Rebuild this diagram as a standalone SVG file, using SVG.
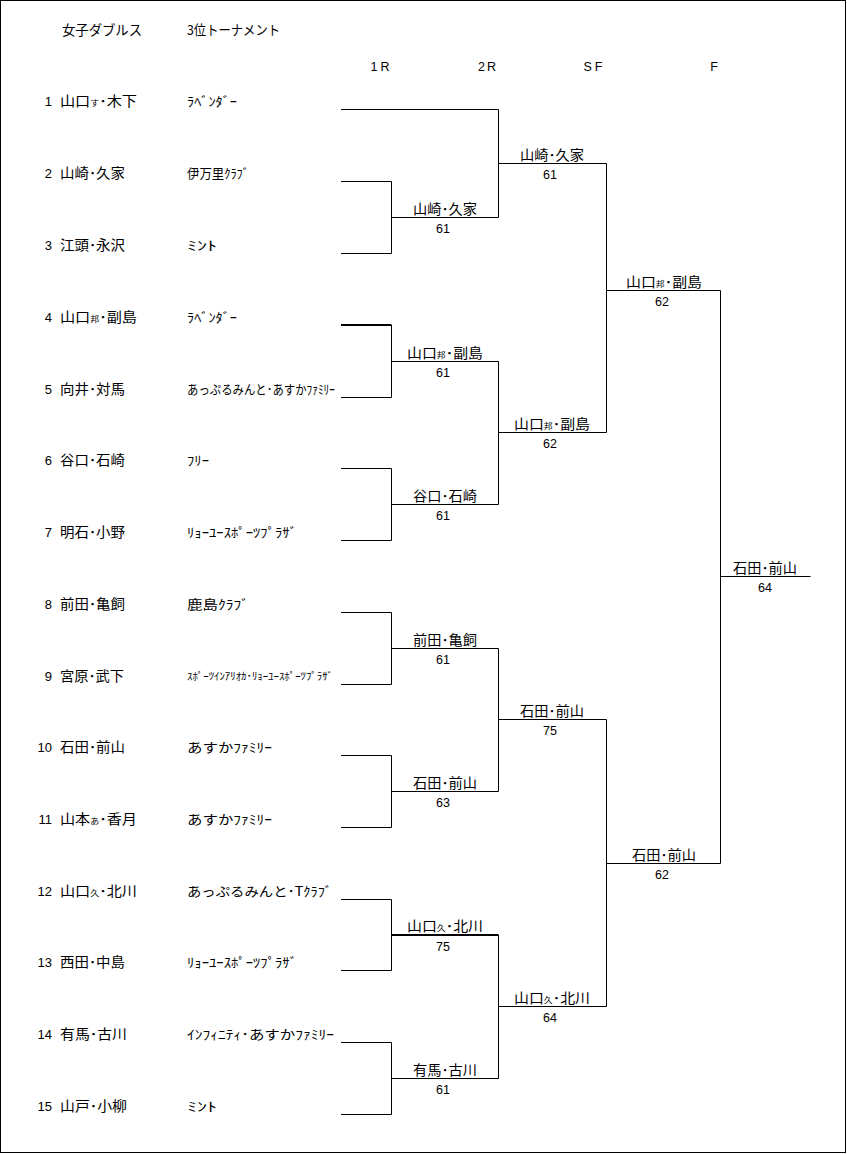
<svg xmlns="http://www.w3.org/2000/svg" width="847" height="1154" viewBox="0 0 847 1154">
<style>
.jp{font-family:"Noto Sans CJK JP","Noto Sans CJK SC",sans-serif;fill:#000}
.nm{font-size:13.5px}
.cl{font-size:13px}
.cs{font-size:10.5px}
.sm{font-size:8px}
.num{font-family:"Liberation Sans",Arial,sans-serif;font-size:13px;fill:#000}
.sc{font-family:"Liberation Sans",Arial,sans-serif;font-size:12.5px;fill:#000;text-anchor:middle}
.hd{font-family:"Liberation Sans",Arial,sans-serif;font-size:12.5px;fill:#000;text-anchor:middle}
.lbl{text-anchor:middle}
.ln{stroke:#000;stroke-width:1;fill:none}
.thick{stroke-width:2}
</style>
<rect x="0" y="0" width="847" height="1154" fill="#fff"/>
<rect x="0.5" y="0.5" width="845" height="1152" fill="none" stroke="#000" stroke-width="1"/>

<g id="header">
<text class="jp nm" x="62" y="35" textLength="80" lengthAdjust="spacingAndGlyphs">女子ダブルス</text>
<text class="jp nm" x="187" y="35" textLength="93" lengthAdjust="spacingAndGlyphs">3位トーナメント</text>
<text class="hd" x="380" y="71" textLength="19" lengthAdjust="spacing">1R</text>
<text class="hd" x="487" y="71" textLength="18" lengthAdjust="spacing">2R</text>
<text class="hd" x="593" y="71" textLength="19" lengthAdjust="spacing">SF</text>
<text class="hd" x="714" y="71">F</text>
</g>

<g id="players">
<g id="p1"><text class="num" x="52" y="106" text-anchor="end">1</text><text class="jp nm" x="60" y="106" textLength="77" lengthAdjust="spacingAndGlyphs">山口<tspan class="sm">す</tspan>･木下</text><text class="jp cl" x="187" y="106" textLength="50" lengthAdjust="spacingAndGlyphs">ﾗﾍﾞﾝﾀﾞｰ</text></g>
<g id="p2"><text class="num" x="52" y="178" text-anchor="end">2</text><text class="jp nm" x="60" y="178" textLength="65" lengthAdjust="spacingAndGlyphs">山崎･久家</text><text class="jp cl" x="187" y="178" textLength="62" lengthAdjust="spacingAndGlyphs">伊万里ｸﾗﾌﾞ</text></g>
<g id="p3"><text class="num" x="52" y="250" text-anchor="end">3</text><text class="jp nm" x="60" y="250" textLength="65" lengthAdjust="spacingAndGlyphs">江頭･永沢</text><text class="jp cl" x="187" y="250" textLength="30" lengthAdjust="spacingAndGlyphs">ﾐﾝﾄ</text></g>
<g id="p4"><text class="num" x="52" y="322" text-anchor="end">4</text><text class="jp nm" x="60" y="322" textLength="77" lengthAdjust="spacingAndGlyphs">山口<tspan class="sm">邦</tspan>･副島</text><text class="jp cl" x="187" y="322" textLength="50" lengthAdjust="spacingAndGlyphs">ﾗﾍﾞﾝﾀﾞｰ</text></g>
<g id="p5"><text class="num" x="52" y="394" text-anchor="end">5</text><text class="jp nm" x="60" y="394" textLength="65" lengthAdjust="spacingAndGlyphs">向井･対馬</text><text class="jp cl" x="187" y="394" textLength="148" lengthAdjust="spacingAndGlyphs">あっぷるみんと･あすかﾌｧﾐﾘｰ</text></g>
<g id="p6"><text class="num" x="52" y="465" text-anchor="end">6</text><text class="jp nm" x="60" y="465" textLength="65" lengthAdjust="spacingAndGlyphs">谷口･石崎</text><text class="jp cl" x="187" y="465" textLength="22" lengthAdjust="spacingAndGlyphs">ﾌﾘｰ</text></g>
<g id="p7"><text class="num" x="52" y="537" text-anchor="end">7</text><text class="jp nm" x="60" y="537" textLength="65" lengthAdjust="spacingAndGlyphs">明石･小野</text><text class="jp cl" x="187" y="537" textLength="110" lengthAdjust="spacingAndGlyphs">ﾘｮｰﾕｰｽﾎﾟｰﾂﾌﾟﾗｻﾞ</text></g>
<g id="p8"><text class="num" x="52" y="609" text-anchor="end">8</text><text class="jp nm" x="60" y="609" textLength="65" lengthAdjust="spacingAndGlyphs">前田･亀飼</text><text class="jp cl" x="187" y="609" textLength="62" lengthAdjust="spacingAndGlyphs">鹿島ｸﾗﾌﾞ</text></g>
<g id="p9"><text class="num" x="52" y="681" text-anchor="end">9</text><text class="jp nm" x="60" y="681" textLength="64" lengthAdjust="spacingAndGlyphs">宮原･武下</text><text class="jp cs" x="187" y="680" textLength="146" lengthAdjust="spacingAndGlyphs">ｽﾎﾟｰﾂｲﾝｱﾘｵｶ･ﾘｮｰﾕｰｽﾎﾟｰﾂﾌﾟﾗｻﾞ</text></g>
<g id="p10"><text class="num" x="52" y="752" text-anchor="end">10</text><text class="jp nm" x="60" y="752" textLength="65" lengthAdjust="spacingAndGlyphs">石田･前山</text><text class="jp cl" x="187" y="752" textLength="85" lengthAdjust="spacingAndGlyphs">あすかﾌｧﾐﾘｰ</text></g>
<g id="p11"><text class="num" x="52" y="824" text-anchor="end">11</text><text class="jp nm" x="60" y="824" textLength="77" lengthAdjust="spacingAndGlyphs">山本<tspan class="sm">あ</tspan>･香月</text><text class="jp cl" x="187" y="824" textLength="85" lengthAdjust="spacingAndGlyphs">あすかﾌｧﾐﾘｰ</text></g>
<g id="p12"><text class="num" x="52" y="896" text-anchor="end">12</text><text class="jp nm" x="60" y="896" textLength="77" lengthAdjust="spacingAndGlyphs">山口<tspan class="sm">久</tspan>･北川</text><text class="jp cl" x="187" y="896" textLength="145" lengthAdjust="spacingAndGlyphs">あっぷるみんと･Tｸﾗﾌﾞ</text></g>
<g id="p13"><text class="num" x="52" y="967" text-anchor="end">13</text><text class="jp nm" x="60" y="967" textLength="65" lengthAdjust="spacingAndGlyphs">西田･中島</text><text class="jp cl" x="187" y="967" textLength="110" lengthAdjust="spacingAndGlyphs">ﾘｮｰﾕｰｽﾎﾟｰﾂﾌﾟﾗｻﾞ</text></g>
<g id="p14"><text class="num" x="52" y="1039" text-anchor="end">14</text><text class="jp nm" x="60" y="1039" textLength="67" lengthAdjust="spacingAndGlyphs">有馬･古川</text><text class="jp cl" x="187" y="1039" textLength="147" lengthAdjust="spacingAndGlyphs">ｲﾝﾌｨﾆﾃｨ･あすかﾌｧﾐﾘｰ</text></g>
<g id="p15"><text class="num" x="52" y="1111" text-anchor="end">15</text><text class="jp nm" x="60" y="1111" textLength="67" lengthAdjust="spacingAndGlyphs">山戸･小柳</text><text class="jp cl" x="187" y="1111" textLength="30" lengthAdjust="spacingAndGlyphs">ﾐﾝﾄ</text></g>
</g>

<g id="connectors">
<path class="ln" d="M341 109.5H498.5 M341 181.5H391.5 M341 253.5H391.5 M341 397.5H391.5 M341 468.5H391.5 M341 540.5H391.5 M341 612.5H391.5 M341 684.5H391.5 M341 755.5H391.5 M341 827.5H391.5 M341 899.5H391.5 M341 970.5H391.5 M341 1042.5H391.5 M341 1114.5H391.5"/>
<path class="ln thick" d="M341 325H391.5"/>
<path class="ln" d="M391.5 181.5V253.5 M391.5 217.5H498.5 M391.5 325V397.5 M391.5 361.5H498.5 M391.5 468.5V540.5 M391.5 504.5H498.5 M391.5 612.5V684.5 M391.5 648.5H498.5 M391.5 755.5V827.5 M391.5 791.5H498.5 M391.5 899.5V970.5 M391.5 1042.5V1114.5 M391.5 1078.5H498.5"/>
<path class="ln thick" d="M391.5 935H498.5"/>
<path class="ln" d="M498.5 109.5V217.5 M498.5 163.5H606.5 M498.5 361.5V504.5 M498.5 432.5H606.5 M498.5 648.5V791.5 M498.5 719.5H606.5 M498.5 935V1078.5 M498.5 1006.5H606.5"/>
<path class="ln" d="M606.5 163.5V432.5 M606.5 290.5H720.5 M606.5 719.5V1006.5 M606.5 863.5H720.5"/>
<path class="ln" d="M720.5 290.5V863.5 M720.5 576.5H810.5"/>
</g>

<g id="results">
<g id="r1a"><text class="jp nm lbl" x="445" y="214" textLength="64" lengthAdjust="spacingAndGlyphs">山崎･久家</text><text class="sc" x="443" y="233">61</text></g>
<g id="r1b"><text class="jp nm lbl" x="445" y="358" textLength="76" lengthAdjust="spacingAndGlyphs">山口<tspan class="sm">邦</tspan>･副島</text><text class="sc" x="443" y="377">61</text></g>
<g id="r1c"><text class="jp nm lbl" x="445" y="501" textLength="64" lengthAdjust="spacingAndGlyphs">谷口･石崎</text><text class="sc" x="443" y="520">61</text></g>
<g id="r1d"><text class="jp nm lbl" x="445" y="645" textLength="64" lengthAdjust="spacingAndGlyphs">前田･亀飼</text><text class="sc" x="443" y="664">61</text></g>
<g id="r1e"><text class="jp nm lbl" x="445" y="788" textLength="64" lengthAdjust="spacingAndGlyphs">石田･前山</text><text class="sc" x="443" y="807">63</text></g>
<g id="r1f"><text class="jp nm lbl" x="445" y="931" textLength="76" lengthAdjust="spacingAndGlyphs">山口<tspan class="sm">久</tspan>･北川</text><text class="sc" x="443" y="951">75</text></g>
<g id="r1g"><text class="jp nm lbl" x="445" y="1075" textLength="64" lengthAdjust="spacingAndGlyphs">有馬･古川</text><text class="sc" x="443" y="1094">61</text></g>
<g id="r2a"><text class="jp nm lbl" x="552" y="160" textLength="64" lengthAdjust="spacingAndGlyphs">山崎･久家</text><text class="sc" x="550" y="179">61</text></g>
<g id="r2b"><text class="jp nm lbl" x="552" y="429" textLength="76" lengthAdjust="spacingAndGlyphs">山口<tspan class="sm">邦</tspan>･副島</text><text class="sc" x="550" y="448">62</text></g>
<g id="r2c"><text class="jp nm lbl" x="552" y="716" textLength="64" lengthAdjust="spacingAndGlyphs">石田･前山</text><text class="sc" x="550" y="735">75</text></g>
<g id="r2d"><text class="jp nm lbl" x="552" y="1003" textLength="76" lengthAdjust="spacingAndGlyphs">山口<tspan class="sm">久</tspan>･北川</text><text class="sc" x="550" y="1022">64</text></g>
<g id="r3a"><text class="jp nm lbl" x="664" y="287" textLength="76" lengthAdjust="spacingAndGlyphs">山口<tspan class="sm">邦</tspan>･副島</text><text class="sc" x="662" y="306">62</text></g>
<g id="r3b"><text class="jp nm lbl" x="664" y="860" textLength="64" lengthAdjust="spacingAndGlyphs">石田･前山</text><text class="sc" x="662" y="879">62</text></g>
<g id="r4"><text class="jp nm lbl" x="765" y="573" textLength="64" lengthAdjust="spacingAndGlyphs">石田･前山</text><text class="sc" x="765" y="592">64</text></g>
</g>
</svg>
